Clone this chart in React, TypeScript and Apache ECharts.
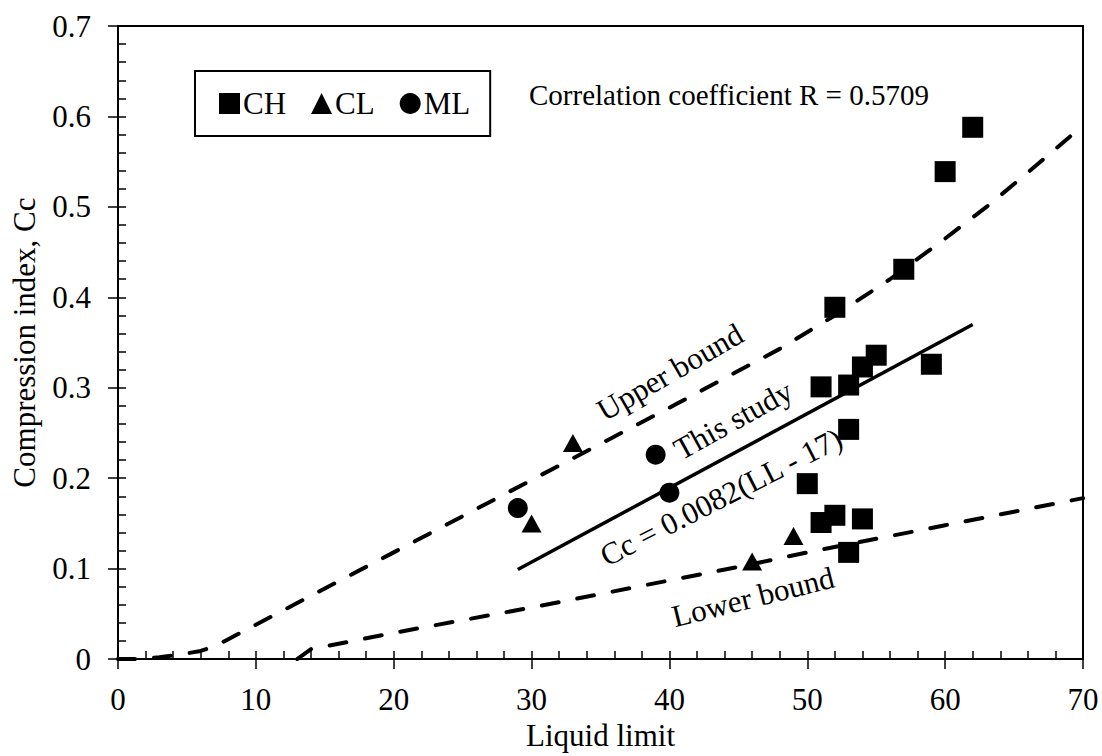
import React, { useEffect, useRef } from "react";
import * as echarts from "echarts";

const FONT = "'Liberation Serif', 'Times New Roman', serif";

const xTicks = { min: 0, max: 70, interval: 10, minor: 2 };
const yTicks = { min: 0, max: 0.7, interval: 0.1, minor: 0.02 };

const chPoints: [number, number][] = [
  [62, 0.588], [60, 0.539], [57, 0.431], [52, 0.389], [55, 0.336],
  [54, 0.323], [53, 0.303], [51, 0.301], [59, 0.326], [53, 0.254],
  [50, 0.194], [52, 0.159], [51, 0.151], [54, 0.155], [53, 0.118],
];
const clPoints: [number, number][] = [
  [33, 0.239], [30, 0.15], [46, 0.108], [49, 0.136],
];
const mlPoints: [number, number][] = [
  [29, 0.167], [39, 0.226], [40, 0.184],
];
const upperBound: [number, number][] = [
  [0, 0], [1.5, 0], [3, 0.002], [4.5, 0.005], [6, 0.009], [7, 0.014],
  [8, 0.022], [10, 0.038], [20, 0.118], [30, 0.198], [40, 0.278],
  [48, 0.343], [52, 0.38], [56, 0.42], [60, 0.465], [63, 0.5],
  [66, 0.538], [70, 0.59],
];
const lowerBound: [number, number][] = [
  [13, 0], [14, 0.011], [15, 0.014], [20, 0.029], [25, 0.043], [30, 0.057],
  [35, 0.072], [40, 0.087], [46, 0.105], [50, 0.118], [55, 0.133],
  [60, 0.148], [65, 0.163], [70, 0.178],
];
const thisStudy: [number, number][] = [
  [29, 0.099], [62, 0.37],
];

const legendNames = ["CH", "CL", "ML"];

export default function App() {
  const ref = useRef<HTMLDivElement>(null);
  useEffect(() => {
    document.body.style.margin = "0";
    const chart = echarts.init(ref.current!, null, { renderer: "svg" });
    const dash = {
      color: "#000",
      width: 4,
      type: [17, 19] as any,
      cap: "round" as const,
    };
    const deg = Math.PI / 180;
    const annot = (text: string, x: number, y: number, angle: number) => ({
      type: "text",
      x,
      y,
      rotation: angle * deg,
      style: {
        text,
        x: 0,
        y: 0,
        align: "center",
        verticalAlign: "middle",
        font: `31px ${FONT}`,
        fill: "#000",
      },
    });
    const tickLine = { color: "#000", width: 1.5 };
    const marker = { color: "#000", opacity: 1 };
    chart.setOption({
      animation: false,
      backgroundColor: "#fff",
      textStyle: { fontFamily: FONT, color: "#000" },
      grid: {
        left: 118,
        right: 19,
        top: 26,
        bottom: 95,
        show: true,
        borderColor: "#000",
        borderWidth: 2,
      },
      legend: {
        data: legendNames,
        left: 195,
        top: 71,
        orient: "horizontal",
        padding: [17, 20, 17, 24],
        itemGap: 25,
        itemWidth: 21,
        itemHeight: 21,
        borderColor: "#000",
        borderWidth: 2,
        itemStyle: { opacity: 1 },
        textStyle: { fontFamily: FONT, fontSize: 31, color: "#000", padding: [0, 0, 0, -2] },
      },
      xAxis: [
        {
          type: "value",
          min: xTicks.min,
          max: xTicks.max,
          interval: xTicks.interval,
          name: "Liquid limit",
          nameLocation: "middle",
          nameGap: 60,
          nameTextStyle: { fontFamily: FONT, fontSize: 31, color: "#000" },
          axisLine: { show: true, lineStyle: { color: "#000", width: 2 } },
          axisTick: { show: true, inside: false, length: 10, lineStyle: tickLine },
          axisLabel: { fontFamily: FONT, fontSize: 31, color: "#000", margin: 25 },
          splitLine: { show: false },
        },
        {
          type: "value",
          min: xTicks.min,
          max: xTicks.max,
          interval: xTicks.minor,
          position: "bottom",
          offset: 0,
          axisLine: { show: false },
          axisTick: { show: true, inside: true, length: 8, lineStyle: tickLine },
          axisLabel: { show: false },
          splitLine: { show: false },
        },
      ],
      yAxis: [
        {
          type: "value",
          min: yTicks.min,
          max: yTicks.max,
          interval: yTicks.interval,
          name: "Compression index, Cc",
          nameLocation: "middle",
          nameGap: 78,
          nameTextStyle: { fontFamily: FONT, fontSize: 31, color: "#000" },
          axisLine: { show: true, lineStyle: { color: "#000", width: 2 } },
          axisTick: { show: true, inside: false, length: 10, lineStyle: tickLine },
          axisLabel: { fontFamily: FONT, fontSize: 31, color: "#000", margin: 27 },
          splitLine: { show: false },
        },
        {
          type: "value",
          min: yTicks.min,
          max: yTicks.max,
          interval: yTicks.minor,
          position: "left",
          offset: 0,
          axisLine: { show: false },
          axisTick: { show: true, inside: true, length: 8, lineStyle: tickLine },
          axisLabel: { show: false },
          splitLine: { show: false },
        },
      ],
      series: [
        {
          name: "Upper bound",
          type: "line",
          data: upperBound,
          showSymbol: false,
          lineStyle: dash,
          z: 1,
        },
        {
          name: "Lower bound",
          type: "line",
          data: lowerBound,
          showSymbol: false,
          lineStyle: dash,
          z: 1,
        },
        {
          name: "This study",
          type: "line",
          data: thisStudy,
          showSymbol: false,
          lineStyle: { color: "#000", width: 3.5 },
          z: 1,
        },
        {
          name: "CH",
          type: "scatter",
          data: chPoints,
          symbol: "rect",
          symbolSize: 21,
          itemStyle: marker,
          z: 3,
        },
        {
          name: "CL",
          type: "scatter",
          data: clPoints,
          symbol: "triangle",
          symbolSize: [20, 18],
          itemStyle: marker,
          z: 3,
        },
        {
          name: "ML",
          type: "scatter",
          data: mlPoints,
          symbol: "circle",
          symbolSize: 20,
          itemStyle: marker,
          z: 3,
        },
      ],
      graphic: [
        {
          type: "text",
          left: 529,
          top: 80,
          style: {
            text: "Correlation coefficient R = 0.5709",
            font: `29px ${FONT}`,
            fill: "#000",
          },
        },
        annot("Upper bound", 670, 372, 30),
        annot("This study", 733, 420, 29),
        annot("Cc = 0.0082(LL - 17)", 721, 497, 27),
        annot("Lower bound", 753, 597, 14),
      ],
    });
    return () => chart.dispose();
  }, []);
  return (
    <div
      ref={ref}
      style={{ position: "fixed", left: 0, top: 0, width: 1102, height: 756, background: "#fff" }}
    />
  );
}
